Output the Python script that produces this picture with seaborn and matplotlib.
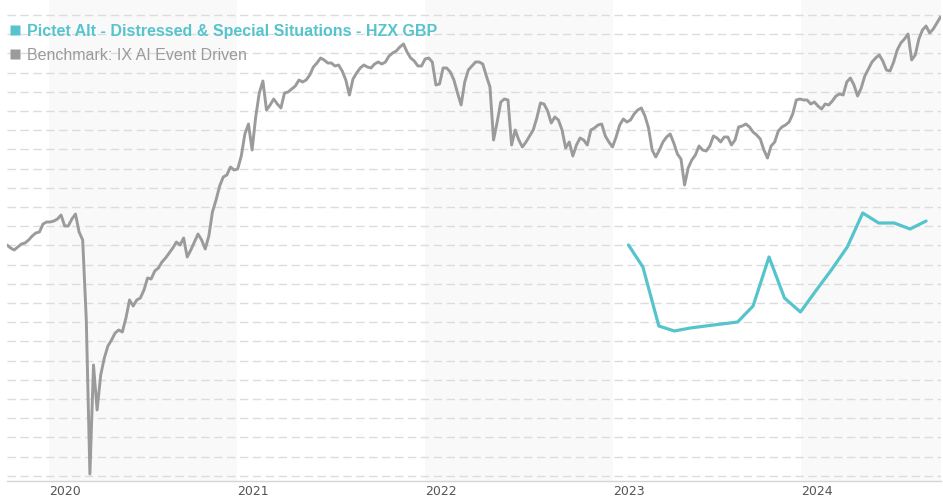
import matplotlib
matplotlib.use("Agg")
import matplotlib.pyplot as plt
import seaborn as sns
import pandas as pd
import numpy as np
from matplotlib.lines import Line2D

# ---------------- data ----------------
bench_label = "Benchmark: IX AI Event Driven"
fund_label = "Pictet Alt - Distressed & Special Situations - HZX GBP"
year_labels = ["2020", "2021", "2022", "2023", "2024"]

bench_start = "2019-10-12"          # weekly observations
bench_values = [
    231, 228, 226, 229, 232, 233, 236, 240, 243, 244, 252, 254, 254, 255, 257, 261,
    250, 250, 257, 262, 244, 236, 156, 2, 111, 66, 101, 118, 130, 136, 143, 146,
    144, 158, 176, 170, 176, 178, 186, 198, 197, 205, 208,
    214, 218, 223, 228, 234, 231, 238, 219, 226, 234, 242, 236, 227, 240, 264, 276,
    290, 299, 301, 309, 306, 307, 320, 342, 352, 326, 359, 383, 395, 366, 371, 377,
    372, 368, 383, 384, 387, 390, 396, 394,
    396, 401, 409, 413, 418, 416, 413, 413, 410, 411, 405, 396, 381, 397, 403, 408,
    411, 409, 408, 412, 414, 412, 414, 420, 423, 425, 429, 432, 424, 418, 415, 410,
    410, 417, 418, 414, 391, 392, 408, 408,
    404, 396, 383, 371, 394, 406, 410, 414, 414, 412, 400, 389, 336, 354, 374, 377,
    376, 331, 346, 336, 329, 334, 340, 346, 358, 373, 372, 365, 353, 359, 356, 346,
    328, 334, 320, 331, 338, 336, 331, 346,
    348, 351, 352, 340, 334, 329, 339, 351, 357, 354, 356, 362, 366, 368, 360, 348,
    326, 319, 326, 334, 339, 342, 333, 322, 317, 291, 308, 316, 321, 330, 326, 325,
    330, 340, 338, 334, 339, 339, 331, 336,
    349, 350, 352, 349, 344, 341, 337, 326, 318, 330, 334, 345, 349, 351, 354, 362,
    376, 377, 376, 376, 372, 374, 370, 367, 372, 371, 375, 380, 382, 381, 394, 398,
    391, 380, 388, 400, 407, 414, 418, 421,
    415, 406, 405, 414, 426, 433, 437, 442, 416, 421, 437, 446, 450, 443, 447, 453, 459,
]

fund_start = "2023-01-31"           # month-end observations
fund_values = [231, 209, 150, 145, 148, 150, 152, 154, 170, 219,
               178, 164, 186, 206, 229, 263, 253, 253, 247, 255]

# ---------------- frames ----------------
bench_df = pd.DataFrame({
    "date": pd.date_range(bench_start, periods=len(bench_values), freq="7D"),
    "value": bench_values,
})
fund_df = pd.DataFrame({
    "date": pd.date_range(fund_start, periods=len(fund_values), freq="ME"),
    "value": fund_values,
})

TEAL = "#56c4cc"
GREY = "#9b9b9b"

sns.set_theme(style="white")
plt.rcParams["font.family"] = ["Liberation Sans", "DejaVu Sans"]
plt.rcParams["lines.scale_dashes"] = False

fig = plt.figure(figsize=(9.43, 5.0), dpi=100)
ax = fig.add_axes([7 / 943, 19 / 500, 934 / 943, 481 / 500])

# alternating year bands
for yr in [2020, 2022, 2024]:
    ax.axvspan(pd.Timestamp(f"{yr}-01-01"), pd.Timestamp(f"{yr + 1}-01-01"),
               color="#f9f9f9", lw=0, zorder=0)

sns.lineplot(data=bench_df, x="date", y="value", color=GREY, lw=2.1, ax=ax, zorder=3)
sns.lineplot(data=fund_df, x="date", y="value", color=TEAL, lw=2.3, ax=ax, zorder=4)

ax.set_xlim(pd.Timestamp("2019-10-12"), pd.Timestamp("2024-09-29"))
ax.set_ylim(-5, 476)
ax.set_yticks(np.linspace(0.2, 461, 25))
ax.set_yticklabels([])
ax.tick_params(axis="y", length=0)
ax.grid(axis="y", color="#dcdcdc", lw=1.0, linestyle=(0, (6, 3.3)))
ax.grid(axis="x", visible=False)
ax.set_axisbelow(True)

for s in ["left", "right", "top"]:
    ax.spines[s].set_visible(False)
ax.spines["bottom"].set_color("#d5d5d5")
ax.spines["bottom"].set_linewidth(1.0)

ax.set_xticks([pd.Timestamp(f"{y}-01-01") for y in year_labels])
ax.set_xticklabels(year_labels, ha="left", color="#555555", fontsize=9,
                   family=["DejaVu Sans"])
ax.tick_params(axis="x", length=0, pad=3)
ax.set_xlabel("")
ax.set_ylabel("")

handles = [
    Line2D([0], [0], marker="s", color="none", markerfacecolor=TEAL,
           markeredgecolor="none", markersize=7, lw=0),
    Line2D([0], [0], marker="s", color="none", markerfacecolor=GREY,
           markeredgecolor="none", markersize=7, lw=0),
]
leg = ax.legend(handles, [fund_label, bench_label], loc="upper left",
                bbox_to_anchor=(9.5 / 943, 1 - 24 / 500),
                bbox_transform=fig.transFigure, frameon=False,
                handlelength=0.65, handletextpad=0.45, borderpad=0,
                borderaxespad=0, labelspacing=0.56, prop={"size": 11.5})
texts = leg.get_texts()
texts[0].set_color(TEAL)
texts[0].set_fontweight("bold")
texts[1].set_color(GREY)

fig.savefig("out.png", dpi=100)
